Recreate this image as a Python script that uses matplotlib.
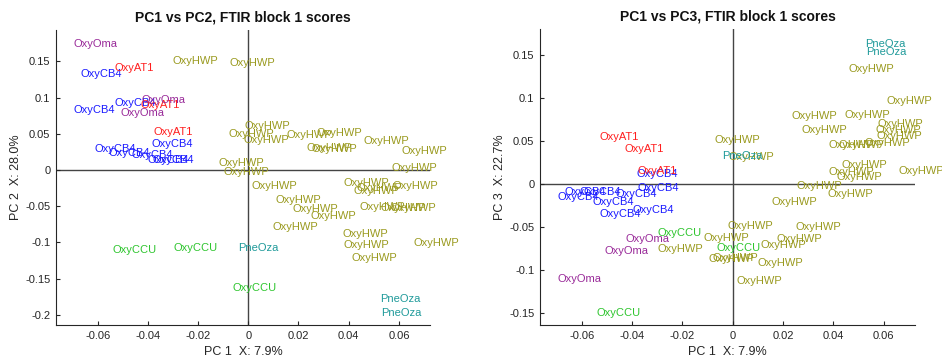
import matplotlib
matplotlib.use("Agg")
import matplotlib.pyplot as plt

plt.rcParams['font.family'] = ['Liberation Sans', 'DejaVu Sans']

# Score values per sample group: PC1, PC2, PC3
hwp_pc1 = [-0.0301, -0.0073, -0.0017, -0.0080, -0.0020, 0.0153, 0.0273, 0.0233, 0.0253, 0.0458,
           0.0611, 0.0571, -0.0117, -0.0097, 0.0014, 0.0110, 0.0175, 0.0249, 0.0097, 0.0381,
           0.0421, 0.0576, 0.0445, 0.0525, 0.0567, 0.0376, 0.0381, 0.0412, 0.0657, 0.0432]
hwp_pc2 = [0.1506, 0.1482, 0.0608, 0.0493, 0.0414, 0.0483, 0.0507, 0.0308, 0.0290, 0.0401,
           0.0262, 0.0035, 0.0097, -0.0021, -0.0217, -0.0414, -0.0539, -0.0635, -0.0791, -0.0184,
           -0.0286, -0.0217, -0.0507, -0.0521, -0.0521, -0.0884, -0.1036, -0.1220, -0.1012, -0.0249]
hwp_pc3 = [-0.0756, 0.0512, 0.0317, -0.0864, -0.0488, -0.0213, 0.0628, 0.0794, -0.0023, 0.1337,
           0.0969, 0.0558, -0.0631, -0.0876, -0.1128, -0.0709, -0.0643, -0.0497, -0.0915, 0.0453,
           0.0453, 0.0694, 0.0802, 0.0473, 0.0628, -0.0120, 0.0140, 0.0085, 0.0145, 0.0221]

cb4_pc1 = [-0.0668, -0.0531, -0.0697, -0.0384, -0.0611, -0.0558, -0.0467, -0.0400, -0.0380]
cb4_pc2 = [0.1322, 0.0930, 0.0825, 0.0359, 0.0290, 0.0231, 0.0207, 0.0138, 0.0138]
cb4_pc3 = [-0.0097, -0.0352, -0.0148, 0.0113, -0.0093, -0.0213, -0.0120, -0.0302, -0.0043]

at1_pc1 = [-0.0531, -0.0429, -0.0378]
at1_pc2 = [0.1413, 0.0898, 0.0529]
at1_pc3 = [0.0550, 0.0407, 0.0151]

oma_pc1 = [-0.0697, -0.0425, -0.0511]
oma_pc2 = [0.1736, 0.0963, 0.0783]
oma_pc3 = [-0.1105, -0.0640, -0.0776]

ccu_pc1 = [-0.0542, -0.0299, -0.0064]
ccu_pc2 = [-0.1105, -0.1073, -0.1626]
ccu_pc3 = [-0.1504, -0.0566, -0.0748]

oza_pc1 = [-0.0042, 0.0526, 0.0531]
oza_pc2 = [-0.1073, -0.1782, -0.1979]
oza_pc3 = [0.0326, 0.1628, 0.1527]

groups = [
    ("OxyHWP", "#9a9a1f", hwp_pc1, hwp_pc2, hwp_pc3),
    ("OxyCB4", "#1a1aff", cb4_pc1, cb4_pc2, cb4_pc3),
    ("OxyAT1", "#ff1f1f", at1_pc1, at1_pc2, at1_pc3),
    ("OxyOma", "#992a99", oma_pc1, oma_pc2, oma_pc3),
    ("OxyCCU", "#2ec52e", ccu_pc1, ccu_pc2, ccu_pc3),
    ("PneOza", "#1f9a9a", oza_pc1, oza_pc2, oza_pc3),
]

x_ticks = [-0.06, -0.04, -0.02, 0, 0.02, 0.04, 0.06]
pc2_ticks = [-0.2, -0.15, -0.1, -0.05, 0, 0.05, 0.1, 0.15]
pc3_ticks = [-0.15, -0.1, -0.05, 0, 0.05, 0.1, 0.15]

W, H = 942, 360
fig = plt.figure(figsize=(W / 100, H / 100), dpi=100)

axis_col = "#262626"


def score_axes(rect, ylim, yticks, comp, title, ylabel):
    ax = fig.add_axes(rect)
    ax.set_xlim(-0.0766, 0.0724)
    ax.set_ylim(*ylim)
    ax.axhline(0, color="#444444", lw=1.0, zorder=1)
    ax.axvline(0, color="#444444", lw=1.0, zorder=1)
    for name, col, p1, p2, p3 in groups:
        ys = p2 if comp == 2 else p3
        for xv, yv in zip(p1, ys):
            ax.text(xv, yv, name, color=col, fontsize=8, ha="left", va="center",
                    clip_on=False, zorder=3)
    ax.set_xticks(x_ticks)
    ax.set_xticklabels(["0" if t == 0 else f"{t:g}" for t in x_ticks])
    ax.set_yticks(yticks)
    ax.set_yticklabels(["0" if t == 0 else f"{t:g}" for t in yticks])
    for s in ("top", "right"):
        ax.spines[s].set_visible(False)
    for s in ("left", "bottom"):
        ax.spines[s].set_color(axis_col)
        ax.spines[s].set_linewidth(0.8)
    ax.tick_params(direction="in", length=3, width=0.8, color=axis_col,
                   labelsize=8, labelcolor=axis_col, pad=4)
    ax.set_title(title, fontsize=10, fontweight="bold", color="#111111", pad=6)
    ax.set_xlabel("PC 1  X: 7.9%", fontsize=9, color=axis_col, labelpad=4)
    ax.set_ylabel(ylabel, fontsize=9, color=axis_col, labelpad=2)
    return ax


score_axes([56 / W, 35 / H, 374 / W, 295 / H], (-0.214, 0.1934), pc2_ticks, 2,
           "PC1 vs PC2, FTIR block 1 scores", "PC 2  X: 28.0%")
score_axes([540 / W, 35 / H, 375 / W, 296 / H], (-0.164, 0.18), pc3_ticks, 3,
           "PC1 vs PC3, FTIR block 1 scores", "PC 3  X: 22.7%")

fig.savefig("out.png", dpi=100)
